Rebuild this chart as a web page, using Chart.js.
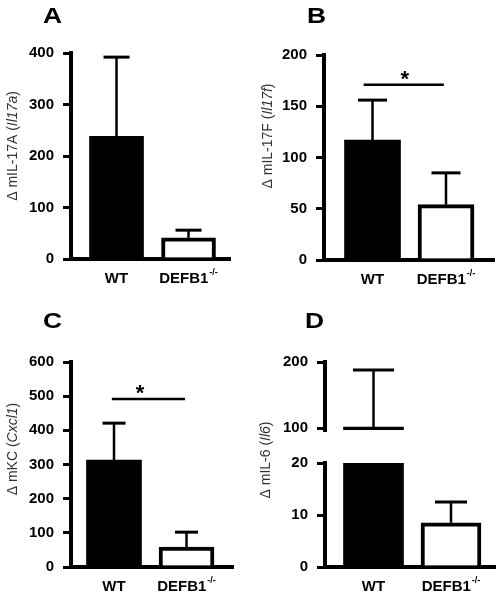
<!DOCTYPE html>
<html lang="en">
<head>
<meta charset="UTF-8">
<title>DEFB1 cytokine expression</title>
<script src="https://cdn.jsdelivr.net/npm/chart.js"></script>
<style>
  body { margin: 0; background: #fff; }
  #fig { position: relative; width: 504px; height: 599px; }
  canvas { position: absolute; }
</style>
</head>
<body>
<div id="fig">
  <canvas id="cA" width="252" height="300" style="left:0;top:0"></canvas>
  <canvas id="cB" width="252" height="300" style="left:252px;top:0"></canvas>
  <canvas id="cC" width="252" height="299" style="left:0;top:300px"></canvas>
  <canvas id="cD" width="252" height="299" style="left:252px;top:300px"></canvas>
  <canvas id="cD2" width="252" height="150" style="left:252px;top:300px"></canvas>
</div>

<script>
// groups (x categories)
const groups = ['WT', 'DEFB1'];
const groupSup = ['', '-/-'];

// mean and error (upper SEM) per group
const il17aMean = [238, 41];
const il17aErr = [154, 15];
const il17fMean = [117, 54];
const il17fErr = [39, 31];
const kcMean = [313, 58];
const kcErr = [108, 44];
const il6Mean = [102, 8.5];
const il6Err = [86, 4];

// axis titles: [plain, italic, plain]
const titleA = ['\u0394 mIL-17A (', 'Il17a', ')'];
const titleB = ['\u0394 mIL-17F (', 'Il17f', ')'];
const titleC = ['\u0394 mKC (', 'Cxcl1', ')'];
const titleD = ['\u0394 mIL-6 (', 'Il6', ')'];

const FONT = "'Liberation Sans', Arial, sans-serif";

// draws error bars, significance bar, x labels, y title and panel letter
const panelPlugin = {
  id: 'panel',
  afterDatasetsDraw(chart, args, o) {
    const ctx = chart.ctx;
    const xs = chart.scales.x, ys = chart.scales.y;
    const area = chart.chartArea;
    ctx.save();
    ctx.strokeStyle = '#000';
    ctx.fillStyle = '#000';

    // error bars
    chart.getDatasetMeta(0).data.forEach((bar, i) => {
      const m = o.mean[i];
      if (m < ys.min || m > ys.max) return;
      const y0 = ys.getPixelForValue(m);
      const y1 = ys.getPixelForValue(m + o.err[i]);
      ctx.lineWidth = 2.5;
      ctx.beginPath();
      ctx.moveTo(bar.x, y0);
      ctx.lineTo(bar.x, y1);
      ctx.stroke();
      ctx.lineWidth = 3;
      ctx.beginPath();
      ctx.moveTo(bar.x - o.cap / 2, y1);
      ctx.lineTo(bar.x + o.cap / 2, y1);
      ctx.stroke();
    });

    // significance bar
    if (o.sig) {
      const y = ys.getPixelForValue(o.sig.y);
      ctx.lineWidth = 2.5;
      ctx.beginPath();
      ctx.moveTo(xs.getPixelForValue(o.sig.from), y);
      ctx.lineTo(xs.getPixelForValue(o.sig.to), y);
      ctx.stroke();
      ctx.font = 'bold 22px ' + FONT;
      ctx.textAlign = 'center';
      ctx.textBaseline = 'alphabetic';
      ctx.fillText('*', xs.getPixelForValue(o.sig.star), y + 1);
    }

    // x labels with superscript
    if (o.labels) {
      const ly = area.bottom + 20;
      ctx.textBaseline = 'middle';
      ctx.textAlign = 'left';
      groups.forEach((g, i) => {
        const cx = xs.getPixelForValue(i + 1);
        ctx.font = 'bold 15px ' + FONT;
        const w1 = ctx.measureText(g).width;
        ctx.font = 'bold 9px ' + FONT;
        const w2 = groupSup[i] ? ctx.measureText(groupSup[i]).width + 1 : 0;
        const x0 = cx - (w1 + w2) / 2;
        ctx.font = 'bold 15px ' + FONT;
        ctx.fillText(g, x0, ly);
        if (w2) {
          ctx.font = 'bold 9px ' + FONT;
          ctx.fillText(groupSup[i], x0 + w1 + 1, ly - 6);
        }
      });
    }

    // rotated y title with italic gene name
    if (o.title) {
      const fonts = ['14px ' + FONT, 'italic 14px ' + FONT, '14px ' + FONT];
      let total = 0;
      const widths = o.title.map((t, i) => {
        ctx.font = fonts[i];
        const w = ctx.measureText(t).width;
        total += w;
        return w;
      });
      ctx.translate(o.titleX, o.titleY);
      ctx.rotate(-Math.PI / 2);
      ctx.fillStyle = '#333';
      ctx.textBaseline = 'middle';
      ctx.textAlign = 'left';
      let x = -total / 2;
      o.title.forEach((t, i) => {
        ctx.font = fonts[i];
        ctx.fillText(t, x, 0);
        x += widths[i];
      });
      ctx.setTransform(1, 0, 0, 1, 0, 0);
    }

    // panel letter, slightly wide like the original
    if (o.letter) {
      ctx.fillStyle = '#000';
      ctx.font = 'bold 22px ' + FONT;
      ctx.textAlign = 'left';
      ctx.textBaseline = 'alphabetic';
      ctx.translate(o.letterX, o.letterY);
      ctx.scale(1.2, 1);
      ctx.fillText(o.letter, 0, 0);
      ctx.setTransform(1, 0, 0, 1, 0, 0);
    }
    ctx.restore();
  }
};

function makePanel(id, p) {
  const cv = document.getElementById(id);
  const W = cv.width, H = cv.height;
  return new Chart(cv, {
    type: 'bar',
    plugins: [panelPlugin],
    data: {
      datasets: [{
        data: p.mean.map((v, i) => ({ x: i + 1, y: v })),
        backgroundColor: ['#000', '#fff'],
        borderColor: '#000',
        borderWidth: [0, 4],
        barThickness: p.barW,
        clip: 0
      }]
    },
    options: {
      responsive: false,
      animation: false,
      devicePixelRatio: 1,
      layout: { padding: { top: p.top, right: W - p.right, bottom: p.xAxis ? 0 : H - p.bottom, left: 0 } },
      plugins: {
        legend: { display: false },
        tooltip: { enabled: false },
        panel: {
          mean: p.mean, err: p.err, cap: p.cap, sig: p.sig, labels: p.xAxis,
          title: p.title, titleX: p.titleX, titleY: p.titleY,
          letter: p.letter, letterX: p.letterX, letterY: p.letterY
        }
      },
      scales: {
        x: {
          type: 'linear',
          display: p.xAxis,
          min: p.xMin,
          max: p.xMax,
          offset: false,
          grid: { display: false },
          border: { display: true, color: '#000', width: 4 },
          ticks: { display: false },
          afterBuildTicks: s => { s.ticks = [{ value: 1 }, { value: 2 }]; },
          afterFit: s => { s.height = H - p.bottom; }
        },
        y: {
          min: p.yMin,
          max: p.yMax,
          ticks: {
            stepSize: p.step,
            color: '#000',
            padding: 9,
            font: { family: FONT, size: 15, weight: 'bold' }
          },
          afterBuildTicks: p.yTicks ? s => { s.ticks = p.yTicks.map(v => ({ value: v })); } : undefined,
          grid: { drawOnChartArea: false, drawTicks: true, tickLength: 8, lineWidth: 3, color: '#000' },
          border: { display: true, color: '#000', width: 4 },
          afterFit: s => { s.width = p.left; }
        }
      }
    }
  });
}

makePanel('cA', {
  mean: il17aMean, err: il17aErr, cap: 26, barW: 54,
  left: 71, right: 230, top: 53, bottom: 259, xMin: 0.368, xMax: 2.576, xAxis: true,
  yMin: 0, yMax: 400, step: 100,
  title: titleA, titleX: 13, titleY: 146, letter: 'A', letterX: 43, letterY: 23
});

makePanel('cB', {
  mean: il17fMean, err: il17fErr, cap: 29, barW: 56,
  left: 72, right: 242, top: 55, bottom: 260, xMin: 0.34, xMax: 2.653, xAxis: true,
  yMin: 0, yMax: 200, step: 50,
  sig: { y: 171, from: 0.88, to: 1.97, star: 1.44 },
  title: titleB, titleX: 16, titleY: 136, letter: 'B', letterX: 55, letterY: 23
});

makePanel('cC', {
  mean: kcMean, err: kcErr, cap: 23, barW: 55,
  left: 71, right: 233, top: 62, bottom: 267, xMin: 0.407, xMax: 2.641, xAxis: true,
  yMin: 0, yMax: 600, step: 100,
  sig: { y: 492, from: 0.97, to: 1.98, star: 1.36 },
  title: titleC, titleX: 13, titleY: 149, letter: 'C', letterX: 43, letterY: 28
});

// panel D: broken axis, lower segment 0-20
makePanel('cD', {
  mean: il6Mean, err: il6Err, cap: 32, barW: 60,
  left: 73, right: 243, top: 163, bottom: 267, xMin: 0.374, xMax: 2.568, xAxis: true,
  yMin: 0, yMax: 20, step: 10,
  title: titleD, titleX: 14, titleY: 160, letter: 'D', letterX: 53, letterY: 28
});

// panel D: upper segment 100-200
makePanel('cD2', {
  mean: il6Mean, err: il6Err, cap: 41, barW: 60,
  left: 73, right: 243, top: 62, bottom: 140, xMin: 0.374, xMax: 2.568, xAxis: false,
  yMin: 97.5, yMax: 200, yTicks: [100, 200]
});
</script>
</body>
</html>
